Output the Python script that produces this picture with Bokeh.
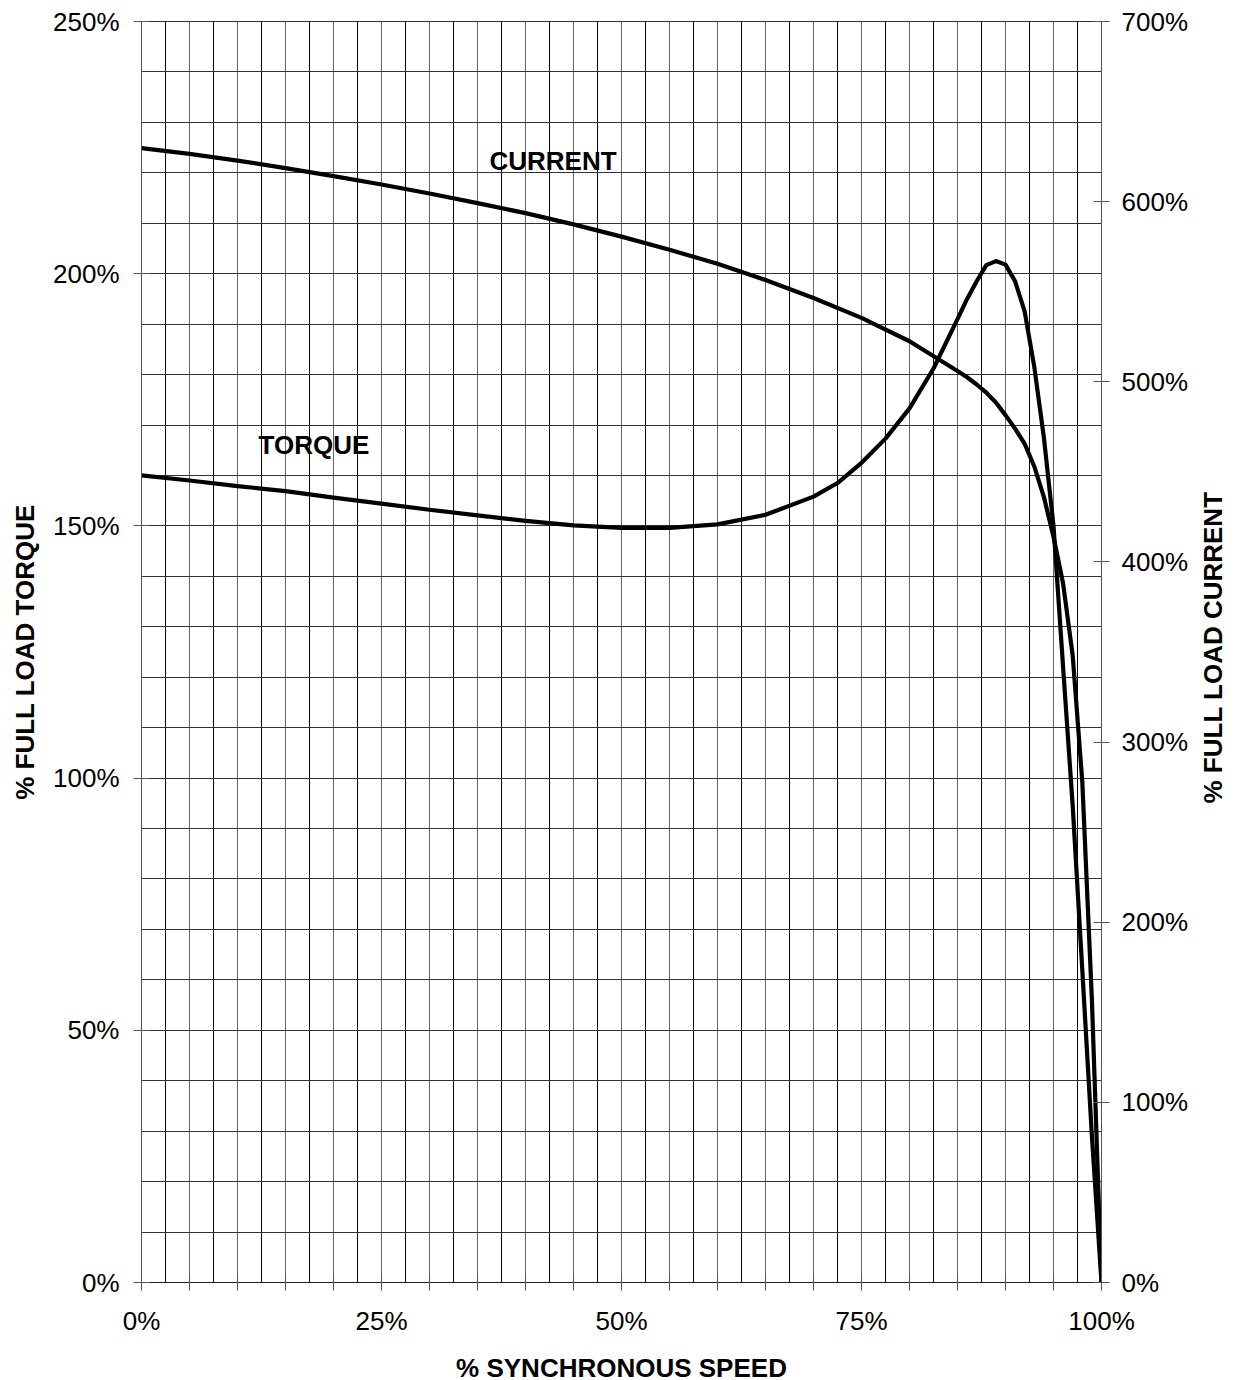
import math
from bokeh.plotting import figure
from bokeh.layouts import row
from bokeh.models import Range1d, LinearAxis, FixedTicker, Grid, Label
from bokeh.embed import file_html
from bokeh.resources import INLINE

# ---- data ----
speed_torque = [0, 5, 10, 15, 20, 25, 30, 35, 40, 45, 50, 55, 60, 65, 70, 72.5, 75, 77.5,
                80, 82.5, 85, 86, 87, 88, 89, 90, 91, 92, 93, 94, 95, 96, 97, 98, 99, 100]
torque = [160, 159, 157.9, 156.9, 155.6, 154.4, 153.2, 152.1, 151, 150.1, 149.6, 149.6,
          150.3, 152.2, 155.8, 158.5, 162.5, 167.3, 173.3, 181.2, 191, 195, 198.5, 201.7,
          202.5, 201.8, 198.5, 192.5, 181.5, 167.5, 150, 122, 94.5, 62, 29, 0]

speed_current = [0, 5, 10, 15, 20, 25, 30, 35, 40, 45, 50, 55, 60, 65, 70, 75, 80, 85,
                 86, 87, 88, 89, 90, 91, 92, 93, 94, 95, 96, 97, 98, 99, 100]
current = [629.7, 626.5, 622.8, 618.6, 614.2, 609.5, 604.5, 599.2, 593.6, 587.4, 580.6,
           573.3, 565.5, 556.5, 546.5, 535.5, 522.5, 506, 502.5, 498.5, 494, 488.5, 481.5,
           474, 465.5, 453, 436, 414, 388, 348, 278, 157, 0]

x_ticks = [0, 25, 50, 75, 100]
x_tick_labels = ["0%", "25%", "50%", "75%", "100%"]
torque_ticks = [0, 50, 100, 150, 200, 250]
torque_tick_labels = ["0%", "50%", "100%", "150%", "200%", "250%"]
current_ticks = [0, 100, 200, 300, 400, 500, 600, 700]
current_tick_labels = ["0%", "100%", "200%", "300%", "400%", "500%", "600%", "700%"]

FONT = "Liberation Sans"

p = figure(frame_width=960, frame_height=1261,
           x_range=Range1d(0, 100), y_range=Range1d(0, 250),
           output_backend="svg", toolbar_location=None,
           min_border_left=141, min_border_right=95, min_border_top=21, min_border_bottom=88,
           background_fill_color="white", border_fill_color="white")
p.outline_line_color = "#333333"
p.grid.visible = False

p.extra_y_ranges = {"cur": Range1d(0, 700)}

# grid lines
grid_major_x = Grid(dimension=0, ticker=FixedTicker(ticks=[i * 5 for i in range(21)]),
                    grid_line_color="#666666", grid_line_width=1)
grid_minor_x = Grid(dimension=0, ticker=FixedTicker(ticks=[2.5 + i * 5 for i in range(20)]),
                    grid_line_color="#000000", grid_line_width=1)
grid_y = Grid(dimension=1, ticker=FixedTicker(ticks=[i * 10 for i in range(26)]),
              grid_line_color="#333333", grid_line_width=1)
for g in (grid_major_x, grid_minor_x, grid_y):
    p.add_layout(g, "center")

# axes styling
def style_axis(ax, label):
    if label:
        ax.axis_label = label
    ax.axis_label_text_font = FONT
    ax.axis_label_text_font_style = "bold"
    ax.axis_label_text_font_size = "26px"
    ax.axis_label_text_color = "black"
    ax.major_label_text_font = FONT
    ax.major_label_text_font_size = "26px"
    ax.major_label_text_color = "black"
    ax.major_label_text_font_style = "normal"
    ax.axis_line_color = "#555555"
    ax.major_tick_line_color = "#555555"
    ax.minor_tick_line_color = "#555555"
    ax.major_tick_in = 8
    ax.major_tick_out = 8
    ax.minor_tick_in = 8
    ax.minor_tick_out = 8

xa = p.xaxis[0]
xa.ticker = FixedTicker(ticks=x_ticks, minor_ticks=[i * 5 for i in range(21)])
xa.major_label_overrides = dict(zip(x_ticks, x_tick_labels))
style_axis(xa, "% SYNCHRONOUS SPEED")
xa.major_label_standoff = 15
xa.axis_label_standoff = 14
xa.axis_line_color = "#222222"

ya = p.yaxis[0]
ya.ticker = FixedTicker(ticks=torque_ticks, minor_ticks=[])
ya.major_label_overrides = dict(zip(torque_ticks, torque_tick_labels))
style_axis(ya, "% FULL LOAD TORQUE")
ya.major_label_standoff = 14
ya.axis_label_standoff = 10

yr = LinearAxis(y_range_name="cur")
yr.ticker = FixedTicker(ticks=current_ticks, minor_ticks=[])
yr.major_label_overrides = dict(zip(current_ticks, current_tick_labels))
style_axis(yr, None)
yr.major_label_standoff = 12
p.add_layout(yr, "right")

# curves
p.line(speed_torque, torque, line_color="black", line_width=4.2, line_join="round")
p.line(speed_current, current, line_color="black", line_width=4.2, line_join="round",
       y_range_name="cur")

# curve labels
p.add_layout(Label(x=36.25, y=222.4, text="CURRENT", text_font=FONT, text_font_style="bold",
                   text_font_size="26px", text_baseline="middle", text_align="left",
                   text_color="black"))
p.add_layout(Label(x=12.2, y=166.1, text="TORQUE", text_font=FONT, text_font_style="bold",
                   text_font_size="26px", text_baseline="middle", text_align="left",
                   text_color="black"))

# narrow companion figure holding the right-hand axis title (reads bottom-to-top)
t = figure(width=36, height=1300, x_range=Range1d(0, 1), y_range=Range1d(0, 1),
           output_backend="svg", toolbar_location=None,
           x_axis_location=None, y_axis_location=None, min_border=0,
           background_fill_color="white", border_fill_color="white")
t.outline_line_color = None
t.grid.visible = False
t.add_layout(Label(x=0.45, y=1 - 692 / 1300, text="% FULL LOAD CURRENT", angle=math.pi / 2,
                   text_font=FONT, text_font_style="bold", text_font_size="26px",
                   text_align="center", text_baseline="middle", text_color="black"))

layout = row(p, t, spacing=0)
open("out.html", "w").write(file_html(layout, INLINE))
